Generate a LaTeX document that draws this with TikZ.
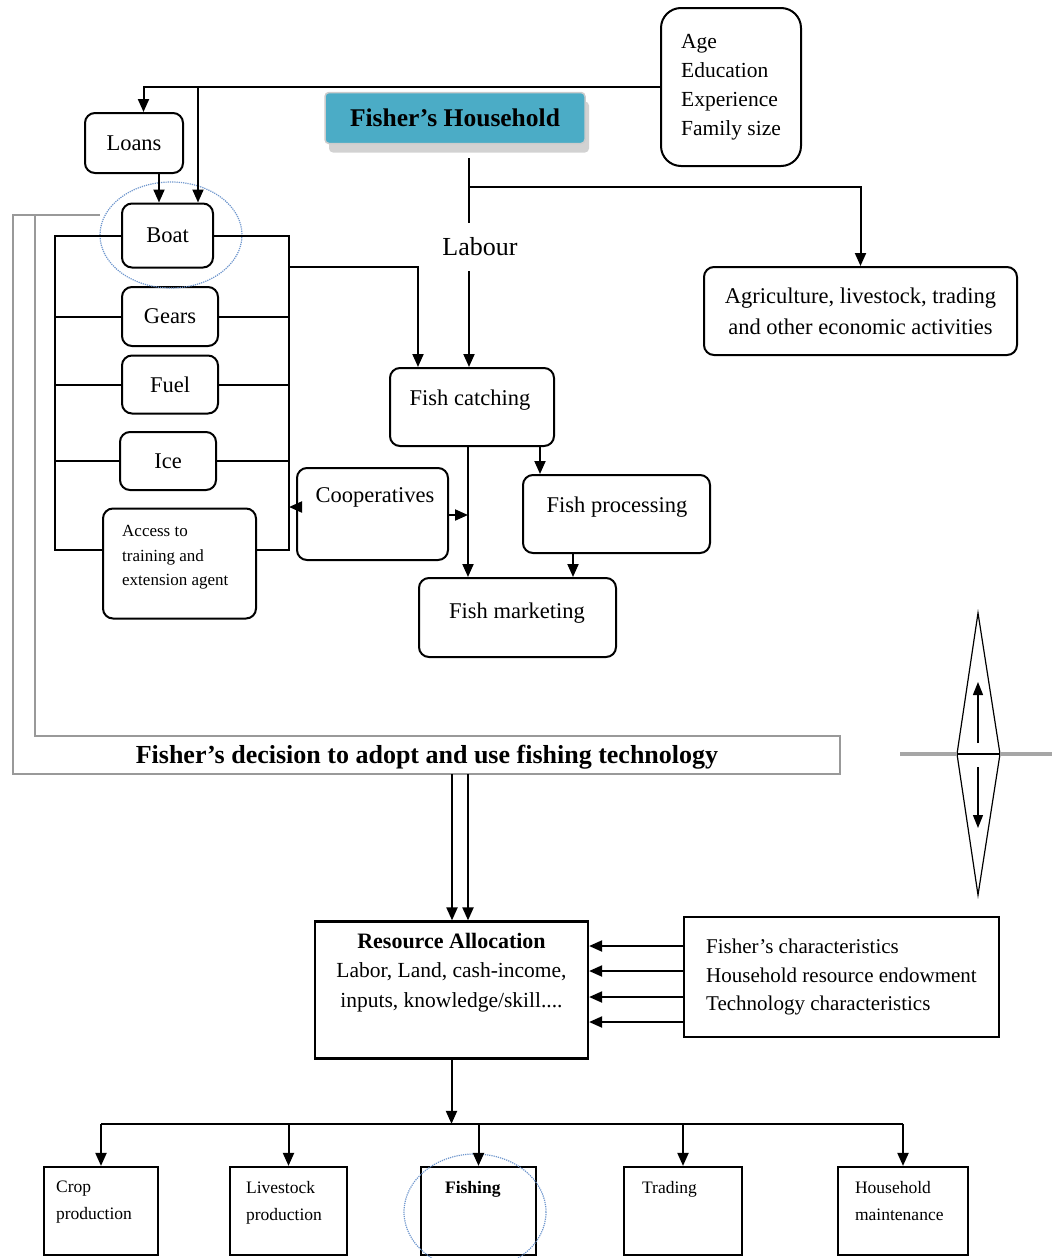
\documentclass[tikz,border=0pt]{standalone}
\usepackage{fontspec}
\setmainfont{Liberation Serif}
\usetikzlibrary{arrows.meta,shadows}
\definecolor{hhteal}{RGB}{75,172,198}
\definecolor{ringblue}{RGB}{110,150,205}
\tikzset{box/.style={draw,line width=2pt,rounded corners=10pt,align=center,inner sep=0pt,font=\fontsize{22.5}{26}\selectfont}}
\tikzset{sqbox/.style={draw,line width=2.2pt,inner sep=0pt}}
\tikzset{txt/.style={inner sep=0pt,font=\fontsize{22.5}{26}\selectfont}}
\tikzset{link/.style={line width=2pt}}
\tikzset{flow/.style={link,-{Triangle[length=13pt,width=11pt]}}}
\tikzset{ring/.style={draw=ringblue,densely dotted,line width=1.2pt}}
\tikzset{frame/.style={draw=black!40,line width=2pt}}

\begin{document}
\begin{tikzpicture}[x=1pt,y=-1pt]
        \path[use as bounding box] (0,0) rectangle (1052,1258);
        \clip (0,0) rectangle (1052,1258);
        % household and its traits
        \node[draw=white!80!black,line width=1.5pt,fill=hhteal,rounded corners=4pt,minimum width=260pt,minimum height=51pt,
              font=\bfseries\fontsize{25.5}{28}\selectfont,drop shadow={shadow xshift=4pt,shadow yshift=-9pt,fill=black!35}] (house) at (455,118) {Fisher's Household};
        \node[box,rounded corners=20pt,minimum width=140pt,minimum height=158pt,align=left,font=\fontsize{21.5}{29}\selectfont] (traits) at (731,87) {Age\\Education\\Experience\\Family size};
        \node[box,minimum width=313pt,minimum height=88pt,font=\fontsize{22.5}{31}\selectfont] (agri) at (860.5,311) {Agriculture, livestock, trading\\and other economic activities};
        \node[txt,font=\fontsize{26}{30}\selectfont,inner ysep=15pt] (labour) at (480,247) {Labour};
        \coordinate (fork) at (469,187);

        % inputs
        \node[box,minimum width=98pt,minimum height=60pt] (loans) at (134,143) {Loans};
        \node[box,minimum width=91pt,minimum height=64pt] (boat) at (167.5,235.5) {Boat};
        \node[box,minimum width=96pt,minimum height=59pt] (gears) at (170,316.5) {Gears};
        \node[box,minimum width=96pt,minimum height=58pt] (fuel) at (170,384.5) {Fuel};
        \node[box,minimum width=96pt,minimum height=58pt] (ice) at (168,461) {Ice};
        \node[box,minimum width=153pt,minimum height=110pt] (access) at (179.5,563.5) {};
        \node[txt,anchor=north west,align=left,font=\fontsize{17}{24.5}\selectfont] (access-t) at ([xshift=20pt,yshift=-18pt]access.north west) {Access to\\training and\\extension agent};
        \draw[ring] (171,235) ellipse [x radius=71, y radius=53];
        \coordinate (lbus) at (55,234);
        \coordinate (rbus) at (289,267);

        % fish chain
        \node[box,minimum width=164pt,minimum height=78pt] (fcatch) at (472,407) {};
        \node[txt] (fcatch-t) at (470,400) {Fish catching};
        \node[box,minimum width=151pt,minimum height=92pt] (coop) at (372.5,514) {};
        \node[txt] (coop-t) at (375,497) {Cooperatives};
        \node[box,minimum width=187pt,minimum height=78pt] (fproc) at (616.5,514) {};
        \node[txt] (fproc-t) at (617,507) {Fish processing};
        \node[box,minimum width=197pt,minimum height=79pt] (fmarket) at (517.5,617.5) {};
        \node[txt] (fmarket-t) at (517,613) {Fish marketing};
        \coordinate (mline) at ([xshift=-4pt]fcatch.south);

        % decision and allocation
        \node[inner sep=0pt,minimum height=34pt,font=\bfseries\fontsize{26}{28}\selectfont] (decide) at (427,757) {Fisher's decision to adopt and use fishing technology};
        \node[sqbox,minimum width=273pt,minimum height=137pt] (alloc) at (451.5,990) {};
        \node[txt,anchor=north,align=center,font=\fontsize{21.5}{29.5}\selectfont] (alloc-t) at (451.5,933) {{\bfseries\fontsize{22}{29.5}\selectfont Resource Allocation}\\Labor, Land, cash-income,\\inputs, knowledge/skill....};
        \node[sqbox,minimum width=315pt,minimum height=120pt,align=left,font=\fontsize{21}{28.5}\selectfont] (chars) at (841.5,977) {Fisher's characteristics\\Household resource endowment\\Technology characteristics};

        % activities
        \node[sqbox,minimum width=114pt,minimum height=88pt] (crop) at (101,1211) {};
        \node[sqbox,minimum width=117pt,minimum height=88pt] (stock) at (288.5,1211) {};
        \node[sqbox,minimum width=115pt,minimum height=88pt] (fishing) at (478.5,1211) {};
        \node[sqbox,minimum width=118pt,minimum height=88pt] (trade) at (683,1211) {};
        \node[sqbox,minimum width=130pt,minimum height=88pt] (home) at (903,1211) {};
        \node[txt,anchor=north west,align=left,font=\fontsize{17.5}{27}\selectfont] (crop-t) at ([xshift=13pt,yshift=-15pt]crop.north west) {Crop\\production};
        \node[txt,anchor=north west,align=left,font=\fontsize{17.5}{27}\selectfont] (stock-t) at ([xshift=17pt,yshift=-15pt]stock.north west) {Livestock\\production};
        \node[txt,anchor=north west,align=left,font=\bfseries\fontsize{17.5}{27}\selectfont] (fishing-t) at ([xshift=25pt,yshift=-15pt]fishing.north west) {Fishing};
        \node[txt,anchor=north west,align=left,font=\fontsize{17.5}{27}\selectfont] (trade-t) at ([xshift=19pt,yshift=-15pt]trade.north west) {Trading};
        \node[txt,anchor=north west,align=left,font=\fontsize{17.5}{27}\selectfont] (home-t) at ([xshift=18pt,yshift=-15pt]home.north west) {Household\\maintenance};
        \draw[ring] (475,1212) ellipse [x radius=71, y radius=58];

        % top connections
        \draw[flow] (traits.west) -| ([xshift=9.5pt]loans.north);
        \draw[flow] ([xshift=30.5pt]boat.north |- traits.west) -- ([xshift=30.5pt]boat.north);
        \draw[flow] ([xshift=25pt]loans.south) -- ([xshift=25pt]loans.south |- boat.north);
        \draw[link] ([xshift=14pt,yshift=-14pt]house.south) -- ([xshift=14pt]house.south |- labour.north);
        \draw[flow] (fork) -| (agri.north);
        \draw[flow] ([xshift=-11pt]labour.south) -- ([xshift=-11pt]labour.south |- fcatch.north);

        % input buses
        \draw[link] (boat.west) -- (boat.west -| lbus) -- ([yshift=13.5pt]access.west -| lbus) -- ([yshift=13.5pt]access.west);
        \draw[link] (boat.east) -- (boat.east -| rbus) -- ([yshift=13.5pt]access.east -| rbus) -- ([yshift=13.5pt]access.east);
        \draw[link] (gears.west -| lbus) -- (gears.west);
        \draw[link] (fuel.west -| lbus) -- (fuel.west);
        \draw[link] (ice.west -| lbus) -- (ice.west);
        \draw[link] (gears.east) -- (gears.east -| rbus);
        \draw[link] (fuel.east) -- (fuel.east -| rbus);
        \draw[link] (ice.east) -- (ice.east -| rbus);
        \draw[flow] (rbus) -| ([xshift=-54pt]fcatch.north);

        % fish chain arrows
        \draw[flow] (mline) -- (mline |- fmarket.north);
        \draw[flow] ([xshift=68pt]fcatch.south) -- ([xshift=68pt]fcatch.south |- fproc.north);
        \draw[flow] ([xshift=-43.5pt]fproc.south) -- ([xshift=-43.5pt]fproc.south |- fmarket.north);
        \draw[flow] ([yshift=-1pt]coop.east) -- ([yshift=-1pt]coop.east -| mline);
        \draw[flow] ([yshift=7pt]coop.west) -- ([yshift=7pt]coop.west -| rbus);

        % decision frame
        \draw[frame] (100,215) -- (13,215) -- (13,774) -- (840,774) -- (840,736) -- (35,736) -- (35,215);
        \draw[flow] ([xshift=25pt]decide.south) -- ([xshift=25pt]decide.south |- alloc.north);
        \draw[flow] ([xshift=41pt]decide.south) -- ([xshift=41pt]decide.south |- alloc.north);

        % characteristics into allocation
        \draw[flow] ([yshift=31pt]chars.west) -- ([yshift=31pt]chars.west -| alloc.east);
        \draw[flow] ([yshift=6pt]chars.west) -- ([yshift=6pt]chars.west -| alloc.east);
        \draw[flow] ([yshift=-20pt]chars.west) -- ([yshift=-20pt]chars.west -| alloc.east);
        \draw[flow] ([yshift=-45pt]chars.west) -- ([yshift=-45pt]chars.west -| alloc.east);

        % allocation to activities
        \draw[flow] (alloc.south) -- ([yshift=42pt]alloc.south |- crop.north);
        \draw[link] ([yshift=42pt]crop.north) -- ([yshift=42pt]home.north);
        \draw[flow] ([yshift=42pt]crop.north) -- (crop.north);
        \draw[flow] ([yshift=42pt]stock.north) -- (stock.north);
        \draw[flow] ([yshift=42pt]fishing.north) -- (fishing.north);
        \draw[flow] ([yshift=42pt]trade.north) -- (trade.north);
        \draw[flow] ([yshift=42pt]home.north) -- (home.north);

        % balance sign
        \coordinate (dmid) at (978,754);
        \draw[line width=1.2pt] (978,613) -- (1000,754) -- (978,895) -- (957,754) -- cycle;
        \draw[draw=black!35,line width=3.5pt] (900,754) -- (957,754);
        \draw[draw=black!35,line width=3.5pt] (1000,754) -- (1052,754);
        \draw[line width=2.2pt] (957,754) -- (1000,754);
        \draw[line width=1.3pt,-{Triangle[length=13pt,width=10pt]}] ([yshift=11pt]dmid) -- ++(0,-61);
        \draw[line width=1.3pt,-{Triangle[length=13pt,width=10pt]}] ([yshift=-13pt]dmid) -- ++(0,61);
    \end{tikzpicture}
\end{document}
